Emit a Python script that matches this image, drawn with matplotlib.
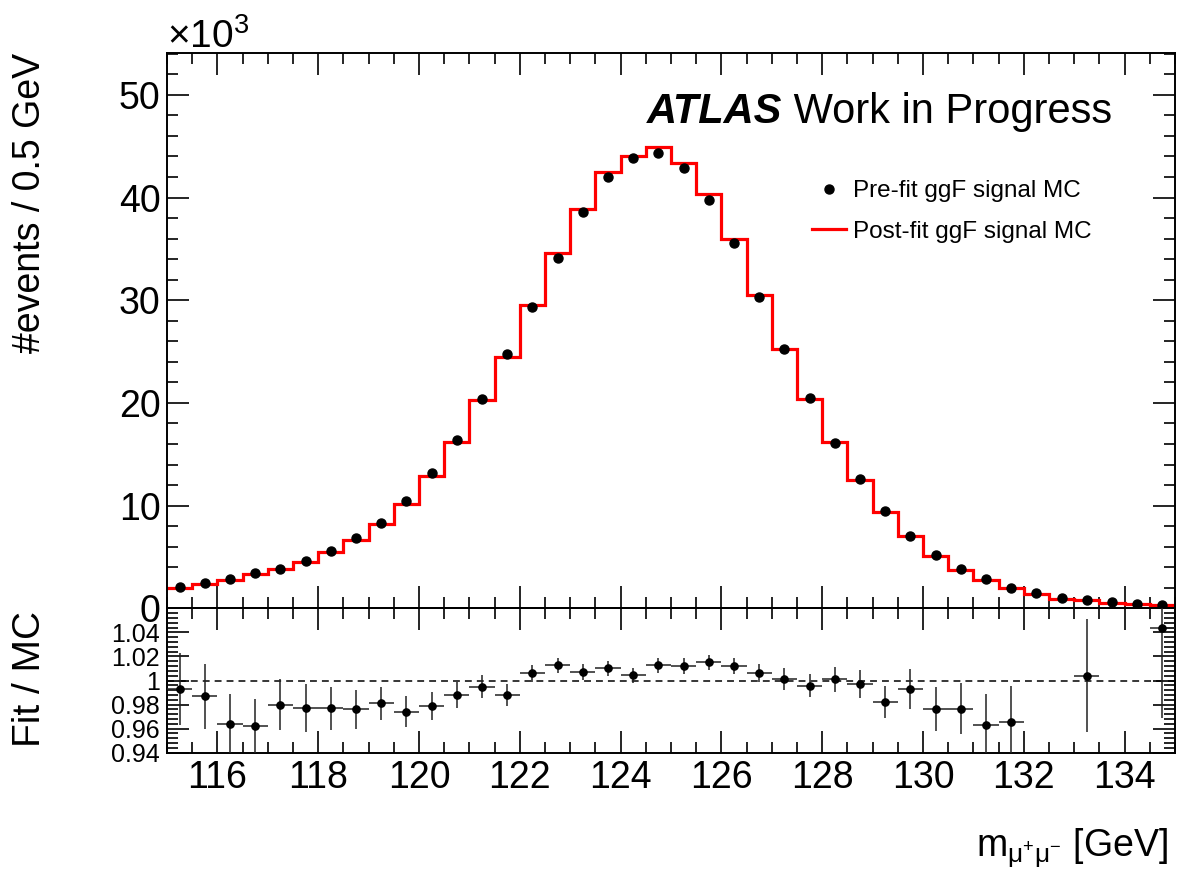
import numpy as np
import matplotlib
matplotlib.use("Agg")
import matplotlib.pyplot as plt
from matplotlib.lines import Line2D
from matplotlib.ticker import MultipleLocator, FuncFormatter

plt.rcParams['font.family'] = ['Liberation Sans', 'DejaVu Sans']
plt.rcParams['mathtext.fontset'] = 'custom'
plt.rcParams['mathtext.rm'] = 'Liberation Sans'
plt.rcParams['mathtext.it'] = 'Liberation Sans:italic'
plt.rcParams['mathtext.bf'] = 'Liberation Sans:bold'

# ---- binning of the dimuon invariant mass (0.5 GeV bins) ----
mass_low, mass_high, bin_width = 115.0, 135.0, 0.5

# ---- pre-fit ggF signal MC yields per bin ----
prefit_events = [
    2040, 2430, 2850, 3440, 3860, 4600, 5610, 6810, 8340, 10450,
    13200, 16390, 20380, 24760, 29310, 34140, 38560, 42030, 43880, 44360,
    42840, 39760, 35540, 30340, 25220, 20450, 16130, 12560, 9500, 7070,
    5190, 3860, 2820, 2010, 1520, 1000, 780, 580, 420, 290,
]

# ---- post-fit / pre-fit ratio and its uncertainty per bin ----
fit_over_mc = [
    0.9927, 0.9870, 0.9640, 0.9620, 0.9800, 0.9770, 0.9770, 0.9760, 0.9810, 0.9740,
    0.9790, 0.9880, 0.9950, 0.9880, 1.0060, 1.0125, 1.0073, 1.0101, 1.0043, 1.0128,
    1.0122, 1.0150, 1.0122, 1.0064, 1.0012, 0.9957, 1.0010, 0.9969, 0.9820, 0.9930,
    0.9765, 0.9765, 0.9633, 0.9655, 0.9300, 0.9300, 1.0040, 0.9300, 0.9300, 1.0436,
]
fit_over_mc_err = [
    0.0300, 0.0270, 0.0250, 0.0226, 0.0215, 0.0200, 0.0180, 0.0160, 0.0140, 0.0130,
    0.0115, 0.0110, 0.0093, 0.0088, 0.0069, 0.0066, 0.0065, 0.0063, 0.0060, 0.0063,
    0.0065, 0.0066, 0.0066, 0.0077, 0.0088, 0.0093, 0.0105, 0.0118, 0.0134, 0.0163,
    0.0184, 0.0212, 0.0253, 0.0300, 0.0350, 0.0400, 0.0470, 0.0550, 0.0650, 0.0750,
]

top_ylim = (0, 54100)
ratio_ylim = (0.94, 1.06)

edges = np.arange(mass_low, mass_high + bin_width / 2, bin_width)
centers = 0.5 * (edges[:-1] + edges[1:])
prefit = np.array(prefit_events, dtype=float)
ratio = np.array(fit_over_mc)
ratio_err = np.array(fit_over_mc_err)
postfit = prefit * ratio

W, H = 1178, 874
fig = plt.figure(figsize=(W / 100, H / 100), dpi=100)


def px_box(x0, y0, x1, y1):
    return [x0 / W, 1 - y1 / H, (x1 - x0) / W, (y1 - y0) / H]


ax = fig.add_axes(px_box(167, 52.7, 1175, 608.3))
axr = fig.add_axes(px_box(167, 608.3, 1175, 752.7))

# ---- main panel ----
ax.stairs(postfit, edges, baseline=None, color='#ff0000', lw=2.3, zorder=2)
ax.plot(centers, prefit, 'o', color='black', ms=6.5, zorder=3)
ax.set_xlim(mass_low, mass_high)
ax.set_ylim(*top_ylim)
ax.yaxis.set_major_locator(MultipleLocator(10000))
ax.yaxis.set_minor_locator(MultipleLocator(2000))
ax.yaxis.set_major_formatter(FuncFormatter(lambda v, p: f"{v / 1000:.0f}"))

# ---- ratio panel ----
inside = (ratio > ratio_ylim[0]) & (ratio < ratio_ylim[1])
axr.axhline(1.0, color='black', lw=1.1, ls=(0, (4.5, 3.3)), zorder=1)
axr.errorbar(centers[inside], ratio[inside], yerr=ratio_err[inside],
             xerr=bin_width / 2, fmt='o', ms=5.2, color='black',
             ecolor='#222222', elinewidth=1.1, capsize=0, zorder=3)
axr.set_xlim(mass_low, mass_high)
axr.set_ylim(*ratio_ylim)
axr.yaxis.set_major_locator(MultipleLocator(0.02))
axr.yaxis.set_minor_locator(MultipleLocator(0.004))
axr.yaxis.set_major_formatter(
    FuncFormatter(lambda v, p: f"{v:g}" if 0.935 < v < 1.055 else ""))

for a in (ax, axr):
    a.xaxis.set_major_locator(MultipleLocator(2))
    a.xaxis.set_minor_locator(MultipleLocator(0.5))
    a.tick_params(which='both', direction='in', top=True, right=True,
                  width=1.2, color='black')
    a.tick_params(which='major', length=16)
    a.tick_params(which='minor', length=8)
    for s in a.spines.values():
        s.set_linewidth(1.4)
    a.set_facecolor('none')

ax.tick_params(axis='x', labelbottom=False)
ax.tick_params(axis='y', labelsize=27, pad=4.5)
axr.tick_params(axis='y', labelsize=18, pad=5)
axr.tick_params(axis='x', labelsize=27, pad=5)

# ---- titles and labels ----
fig.text(30 / W, 1 - 53 / H, '#events / 0.5 GeV', rotation=90,
         ha='center', va='top', fontsize=27)
fig.text(30 / W, 1 - 611 / H, 'Fit / MC', rotation=90,
         ha='center', va='top', fontsize=28)
fig.text(1168 / W, 1 - 857 / H, r'm$_{\mathrm{\mu^{+}\mu^{-}}}$ [GeV]',
         ha='right', va='baseline', fontsize=27)
fig.text(167 / W, 1 - 48 / H, r'$\times$10$^{3}$', ha='left',
         va='baseline', fontsize=28)

t1 = fig.text(647 / W, 1 - 122.7 / H, 'ATLAS', fontsize=30,
              fontweight='bold', fontstyle='italic', va='baseline', ha='left')
ax.annotate(' Work in Progress', xy=(1, 0), xycoords=t1, va='bottom',
            ha='left', fontsize=30, annotation_clip=False)

handles = [Line2D([], [], marker='o', ls='', color='black', ms=6.5),
           Line2D([], [], color='#ff0000', lw=2.3)]
labels = ['Pre-fit ggF signal MC', 'Post-fit ggF signal MC']
ax.legend(handles, labels, loc='upper left',
          bbox_to_anchor=(812 / W, 1 - 180 / H), bbox_transform=fig.transFigure,
          frameon=False, fontsize=17.5, handlelength=1.4, handletextpad=0.3,
          labelspacing=0.78, borderpad=0, borderaxespad=0)

fig.savefig('out.png', dpi=100, facecolor='white')
